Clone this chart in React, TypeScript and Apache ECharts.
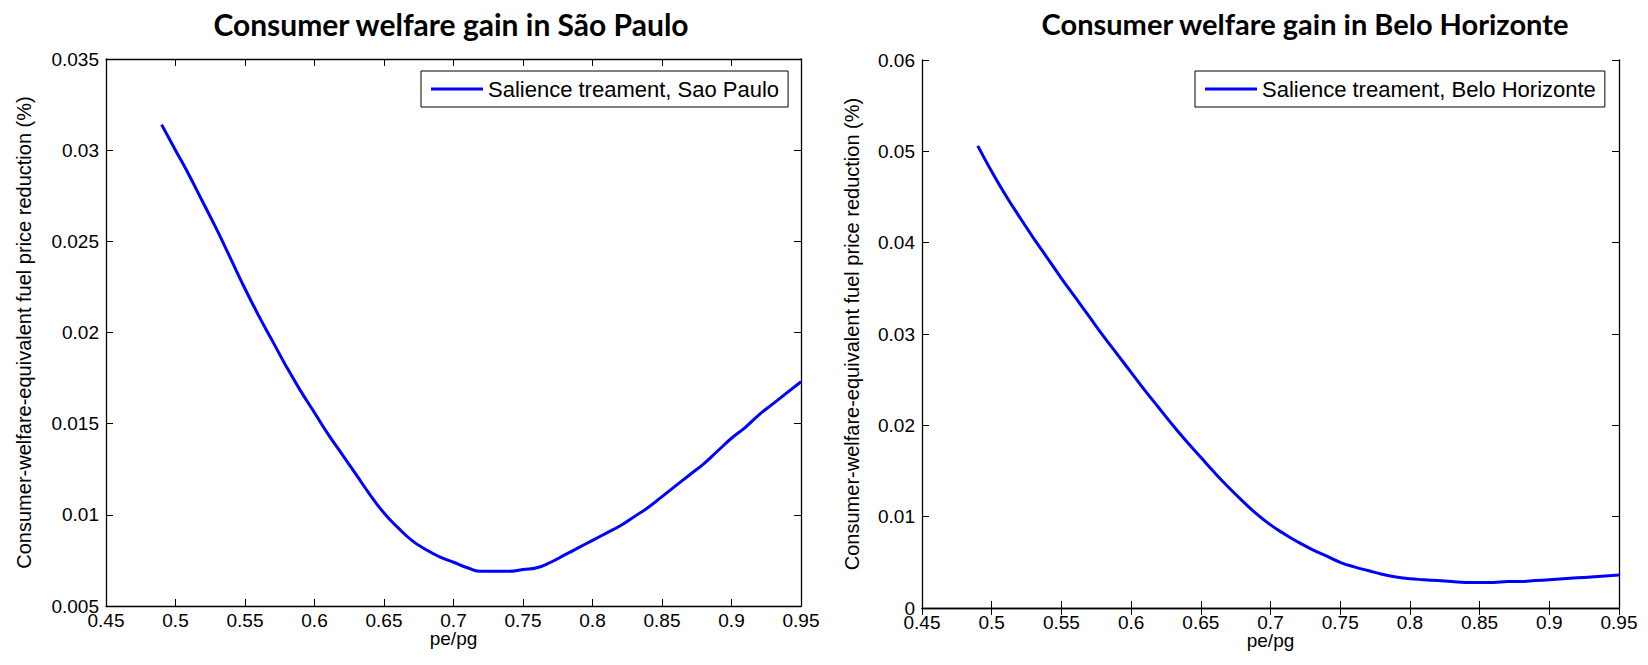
import React, { useEffect, useRef } from "react";
import * as echarts from "echarts";

const xValues = [0.49,0.50,0.51,0.52,0.53,0.54,0.55,0.56,0.57,0.58,0.59,0.60,0.61,0.62,0.63,0.64,0.65,0.66,0.67,0.68,0.69,0.70,0.71,0.72,0.73,0.74,0.75,0.76,0.77,0.78,0.79,0.80,0.81,0.82,0.83,0.84,0.85,0.86,0.87,0.88,0.89,0.90,0.91,0.92,0.93,0.94,0.95];

const saoPaulo = [0.0314,0.0300,0.0286,0.0271,0.0256,0.0240,0.0224,0.0209,0.0195,0.0181,0.0168,0.0156,0.0144,0.0133,0.0122,0.0111,0.0101,0.0093,0.0086,0.0081,0.0077,0.0074,0.0071,0.0069,0.0069,0.0069,0.0070,0.0071,0.0074,0.0078,0.0082,0.0086,0.0090,0.0094,0.0099,0.0104,0.0110,0.0116,0.0122,0.0128,0.0135,0.0142,0.0148,0.0155,0.0161,0.0167,0.0173];

const beloHorizonte = [0.0506,0.0478,0.0452,0.0428,0.0405,0.0383,0.0361,0.0340,0.0319,0.0298,0.0278,0.0258,0.0238,0.0219,0.0200,0.0182,0.0165,0.0148,0.0132,0.0117,0.0103,0.0091,0.0081,0.0072,0.0064,0.0057,0.0050,0.0045,0.0041,0.0037,0.0034,0.0032,0.0031,0.0030,0.0029,0.0028,0.0028,0.0028,0.0029,0.0029,0.0030,0.0031,0.0032,0.0033,0.0034,0.0035,0.0036];

const titles = ["Consumer welfare gain in São Paulo", "Consumer welfare gain in Belo Horizonte"];
const seriesNames = ["Salience treament, Sao Paulo", "Salience treament, Belo Horizonte"];
const yTitle = "Consumer-welfare-equivalent fuel price reduction (%)";
const xTitle = "pe/pg";
const yRanges = [[0.005, 0.035, 0.005], [0, 0.06, 0.01]];
const xRange = [0.45, 0.95, 0.05];

const FONT = "Liberation Sans";

export default function App() {
  const ref = useRef<HTMLDivElement>(null);
  useEffect(() => {
    if (!ref.current) return;
    const chart = echarts.init(ref.current, null, { renderer: "svg" });
    const grids = [
      { left: 106, top: 59, width: 695, height: 547 },
      { left: 922, top: 60, width: 697, height: 548 },
    ];
    const axisLine = { show: true, lineStyle: { color: "#000", width: 1.3 } };
    const tick = { show: true, inside: true, length: 7, lineStyle: { color: "#000", width: 1 } };
    const label = { color: "#000", fontFamily: FONT, fontSize: 19 };
    const xAxis: any[] = [];
    const yAxis: any[] = [];
    const series: any[] = [];
    const datas = [saoPaulo, beloHorizonte];
    grids.forEach((g, i) => {
      xAxis.push({
        type: "value", gridIndex: i, position: "bottom",
        min: xRange[0], max: xRange[1], interval: xRange[2],
        axisLine, axisTick: tick, splitLine: { show: false },
        axisLabel: { ...label, margin: 5 },
        name: xTitle, nameLocation: "middle", nameGap: 23, nameMoveOverlap: false,
        nameTextStyle: { color: "#000", fontFamily: FONT, fontSize: 19, verticalAlign: "top" },
      });
      xAxis.push({
        type: "value", gridIndex: i, position: "top",
        min: xRange[0], max: xRange[1], interval: xRange[2],
        axisLine, axisTick: tick, splitLine: { show: false },
        axisLabel: { show: false },
      });
      yAxis.push({
        type: "value", gridIndex: i, position: "left",
        min: yRanges[i][0], max: yRanges[i][1], interval: yRanges[i][2],
        axisLine, axisTick: tick, splitLine: { show: false },
        axisLabel: { ...label, margin: 7 },
        name: yTitle, nameLocation: "middle", nameGap: i === 0 ? 72 : 60, nameRotate: 90,
        nameTextStyle: { color: "#000", fontFamily: FONT, fontSize: 20 },
      });
      yAxis.push({
        type: "value", gridIndex: i, position: "right",
        min: yRanges[i][0], max: yRanges[i][1], interval: yRanges[i][2],
        axisLine, axisTick: tick, splitLine: { show: false },
        axisLabel: { show: false },
      });
      series.push({
        type: "line", name: seriesNames[i],
        xAxisIndex: i * 2, yAxisIndex: i * 2,
        data: xValues.map((x, k) => [x, datas[i][k]]),
        showSymbol: false, smooth: true,
        lineStyle: { color: "#0000ff", width: 3 },
        itemStyle: { color: "#0000ff" },
      });
    });
    chart.setOption({
      animation: false,
      backgroundColor: "#fff",
      title: [
        { text: titles[0], left: 446, top: 4, textAlign: "center",
          textStyle: { fontFamily: "Lato", fontWeight: "bold", fontSize: 30, color: "#000" } },
        { text: titles[1], left: 1300, top: 4, textAlign: "center",
          textStyle: { fontFamily: "Lato", fontWeight: "bold", fontSize: 29, color: "#000" } },
      ],
      legend: [
        { data: [seriesNames[0]], left: 421, top: 71, width: 375,
          borderColor: "#000", borderWidth: 1, padding: [7, 9, 7, 10],
          backgroundColor: "#fff", icon: "rect", itemWidth: 52, itemHeight: 3, itemGap: 8,
          textStyle: { color: "#000", fontFamily: FONT, fontSize: 22 } },
        { data: [seriesNames[1]], left: 1195, top: 71, width: 415,
          borderColor: "#000", borderWidth: 1, padding: [7, 9, 7, 10],
          backgroundColor: "#fff", icon: "rect", itemWidth: 52, itemHeight: 3, itemGap: 8,
          textStyle: { color: "#000", fontFamily: FONT, fontSize: 22 } },
      ],
      grid: grids,
      xAxis, yAxis, series,
    });
    return () => chart.dispose();
  }, []);
  return (
    <div
      ref={ref}
      style={{ position: "fixed", left: 0, top: 0, width: 1648, height: 665, background: "#fff" }}
    />
  );
}
